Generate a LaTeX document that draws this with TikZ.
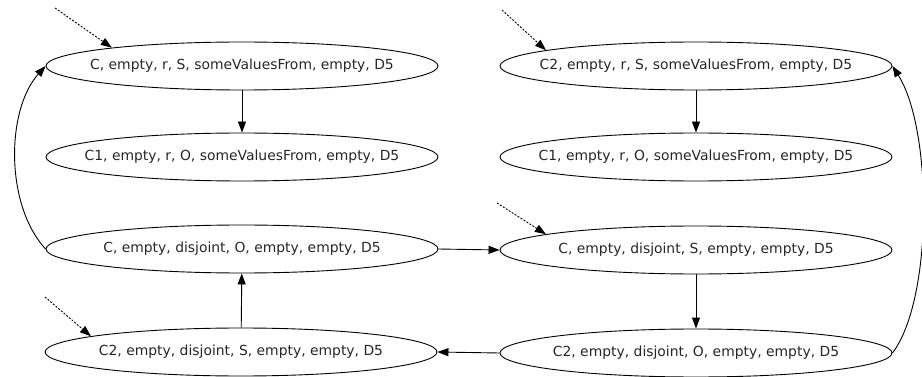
\documentclass[tikz,border=0pt]{standalone}
\usepackage{fontspec}
\setmainfont{DejaVu Sans}
\usetikzlibrary{shapes.geometric,arrows.meta}
\tikzset{
  st/.style={ellipse, draw, line width=0.9pt, minimum width=392pt, minimum height=48pt, inner xsep=-30pt, inner ysep=0pt, font=\fontsize{13.9}{15}\selectfont, text=black!85},
  ed/.style={line width=0.9pt, -{Triangle[length=11pt,width=8pt]}},
  init/.style={ed, dash pattern=on 2pt off 1.5pt}
}
\begin{document}
\begin{tikzpicture}[x=1pt,y=-1pt]
\useasboundingbox (0,0) rectangle (922,377);
\node[st] (A) at (242,66) {C, empty, r, S, someValuesFrom, empty, D5};
\node[st] (B) at (242,157) {C1, empty, r, O, someValuesFrom, empty, D5};
\node[st] (C) at (242,249) {C, empty, disjoint, O, empty, empty, D5};
\node[st] (D) at (241,352) {C2, empty, disjoint, S, empty, empty, D5};
\node[st] (E) at (696,66) {C2, empty, r, S, someValuesFrom, empty, D5};
\node[st] (F) at (696,157) {C1, empty, r, O, someValuesFrom, empty, D5};
\node[st] (G) at (696,250) {C, empty, disjoint, S, empty, empty, D5};
\node[st] (H) at (696,353) {C2, empty, disjoint, O, empty, empty, D5};
\coordinate (a0) at (55,8);
\coordinate (e0) at (502,10);
\coordinate (g0) at (497,203);
\coordinate (d0) at (45,297);
\draw[init] (a0) -- (A.172.5);
\draw[init] (e0) -- (E.174);
\draw[init] (g0) -- (G.174);
\draw[init] (d0) -- (D.174.5);
\draw[ed] (A) -- (B);
\draw[ed] (E) -- (F);
\draw[ed] (C.east) -- (G.west);
\draw[ed] (G) -- (H);
\draw[ed] (H.west) -- (D.east);
\draw[ed] (D) -- (C);
\draw[ed] (C.west) .. controls (5,205) and (6,110) .. (A.west);
\draw[ed] (H.east) .. controls (933,300) and (933,130) .. (E.east);
\end{tikzpicture}
\end{document}
